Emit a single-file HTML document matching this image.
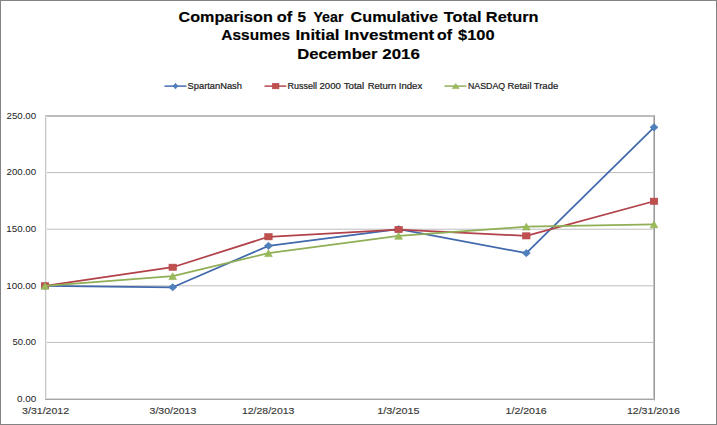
<!DOCTYPE html><html><head><meta charset="utf-8"><style>html,body{margin:0;padding:0;background:#fff;width:717px;height:425px;overflow:hidden;position:relative}</style></head><body><svg width="717" height="425" viewBox="0 0 717 425" style="position:absolute;left:0;top:0">
<rect x="0" y="0" width="717" height="425" fill="#fff"/>
<rect x="0.5" y="0.5" width="716" height="424" fill="none" stroke="#838383" stroke-width="1"/>
<line x1="45" y1="342.40" x2="654" y2="342.40" stroke="#bdbdbd" stroke-width="1"/>
<line x1="45" y1="285.80" x2="654" y2="285.80" stroke="#bdbdbd" stroke-width="1"/>
<line x1="45" y1="229.20" x2="654" y2="229.20" stroke="#bdbdbd" stroke-width="1"/>
<line x1="45" y1="172.60" x2="654" y2="172.60" stroke="#bdbdbd" stroke-width="1"/>
<rect x="45" y="115.25" width="610" height="1.5" fill="#a8a8a8"/>
<rect x="45" y="116" width="1" height="284" fill="#c9c9c9"/>
<rect x="46" y="116" width="1" height="282" fill="#ededed"/>
<rect x="653" y="116" width="1" height="283" fill="#c4c4c4"/>
<rect x="654" y="115.5" width="1" height="285" fill="#9a9a9a"/>
<rect x="45" y="398" width="609" height="1" fill="#d8d8d8"/>
<rect x="45" y="399" width="610" height="1" fill="#a6a6a6"/>
<text transform="translate(16.91,401.80) scale(1.1516,1)" font-family='"Liberation Sans", sans-serif' font-size="8.6" fill="#222">0.00</text>
<text transform="translate(12.42,345.20) scale(1.1038,1)" font-family='"Liberation Sans", sans-serif' font-size="8.6" fill="#222">50.00</text>
<text transform="translate(6.26,288.60) scale(1.1379,1)" font-family='"Liberation Sans", sans-serif' font-size="8.6" fill="#222">100.00</text>
<text transform="translate(6.26,232.00) scale(1.1379,1)" font-family='"Liberation Sans", sans-serif' font-size="8.6" fill="#222">150.00</text>
<text transform="translate(6.51,175.40) scale(1.1279,1)" font-family='"Liberation Sans", sans-serif' font-size="8.6" fill="#222">200.00</text>
<text transform="translate(6.51,118.80) scale(1.1279,1)" font-family='"Liberation Sans", sans-serif' font-size="8.6" fill="#222">250.00</text>
<text transform="translate(22.10,413.80) scale(1.1746,1)" font-family='"Liberation Sans", sans-serif' font-size="9.0" fill="#3a3a3a" stroke="#3a3a3a" stroke-width="0.15">3/31/2012</text>
<text transform="translate(149.60,413.80) scale(1.1653,1)" font-family='"Liberation Sans", sans-serif' font-size="9.0" fill="#3a3a3a" stroke="#3a3a3a" stroke-width="0.15">3/30/2013</text>
<text transform="translate(241.90,413.80) scale(1.1668,1)" font-family='"Liberation Sans", sans-serif' font-size="9.0" fill="#3a3a3a" stroke="#3a3a3a" stroke-width="0.15">12/28/2013</text>
<text transform="translate(377.27,413.80) scale(1.2071,1)" font-family='"Liberation Sans", sans-serif' font-size="9.0" fill="#3a3a3a" stroke="#3a3a3a" stroke-width="0.15">1/3/2015</text>
<text transform="translate(505.60,413.80) scale(1.1753,1)" font-family='"Liberation Sans", sans-serif' font-size="9.0" fill="#3a3a3a" stroke="#3a3a3a" stroke-width="0.15">1/2/2016</text>
<text transform="translate(626.89,413.80) scale(1.1782,1)" font-family='"Liberation Sans", sans-serif' font-size="9.0" fill="#3a3a3a" stroke="#3a3a3a" stroke-width="0.15">12/31/2016</text>
<polyline points="45.00,285.80 172.69,287.27 268.46,245.84 398.61,229.20 526.31,253.09 654.00,127.32" fill="none" stroke="#4169AC" stroke-width="1.75" stroke-linejoin="round" stroke-linecap="round"/>
<path d="M45.00,282.20 L49.00,285.80 L45.00,289.40 L41.00,285.80 Z" fill="#4F81BD" stroke="#4169AC" stroke-width="0.6"/>
<path d="M172.69,283.67 L176.69,287.27 L172.69,290.87 L168.69,287.27 Z" fill="#4F81BD" stroke="#4169AC" stroke-width="0.6"/>
<path d="M268.46,242.24 L272.46,245.84 L268.46,249.44 L264.46,245.84 Z" fill="#4F81BD" stroke="#4169AC" stroke-width="0.6"/>
<path d="M398.61,225.60 L402.61,229.20 L398.61,232.80 L394.61,229.20 Z" fill="#4F81BD" stroke="#4169AC" stroke-width="0.6"/>
<path d="M526.31,249.49 L530.31,253.09 L526.31,256.69 L522.31,253.09 Z" fill="#4F81BD" stroke="#4169AC" stroke-width="0.6"/>
<path d="M654.00,123.72 L658.00,127.32 L654.00,130.92 L650.00,127.32 Z" fill="#4F81BD" stroke="#4169AC" stroke-width="0.6"/>
<polyline points="45.00,285.80 172.69,267.24 268.46,236.78 398.61,229.54 526.31,235.88 654.00,201.24" fill="none" stroke="#B2424A" stroke-width="1.75" stroke-linejoin="round" stroke-linecap="round"/>
<rect x="41.30" y="282.70" width="7.40" height="6.20" fill="#C0504D" stroke="#B2424A" stroke-width="0.6"/>
<rect x="168.99" y="264.14" width="7.40" height="6.20" fill="#C0504D" stroke="#B2424A" stroke-width="0.6"/>
<rect x="264.76" y="233.68" width="7.40" height="6.20" fill="#C0504D" stroke="#B2424A" stroke-width="0.6"/>
<rect x="394.91" y="226.44" width="7.40" height="6.20" fill="#C0504D" stroke="#B2424A" stroke-width="0.6"/>
<rect x="522.61" y="232.78" width="7.40" height="6.20" fill="#C0504D" stroke="#B2424A" stroke-width="0.6"/>
<rect x="650.30" y="198.14" width="7.40" height="6.20" fill="#C0504D" stroke="#B2424A" stroke-width="0.6"/>
<polyline points="45.00,285.80 172.69,276.18 268.46,253.20 398.61,235.88 526.31,226.71 654.00,224.45" fill="none" stroke="#90AE56" stroke-width="1.75" stroke-linejoin="round" stroke-linecap="round"/>
<path d="M45.00,282.40 L48.80,289.20 L41.20,289.20 Z" fill="#9BBB59" stroke="#90AE56" stroke-width="0.6"/>
<path d="M172.69,272.78 L176.49,279.58 L168.89,279.58 Z" fill="#9BBB59" stroke="#90AE56" stroke-width="0.6"/>
<path d="M268.46,249.80 L272.26,256.60 L264.66,256.60 Z" fill="#9BBB59" stroke="#90AE56" stroke-width="0.6"/>
<path d="M398.61,232.48 L402.41,239.28 L394.81,239.28 Z" fill="#9BBB59" stroke="#90AE56" stroke-width="0.6"/>
<path d="M526.31,223.31 L530.11,230.11 L522.51,230.11 Z" fill="#9BBB59" stroke="#90AE56" stroke-width="0.6"/>
<path d="M654.00,221.05 L657.80,227.85 L650.20,227.85 Z" fill="#9BBB59" stroke="#90AE56" stroke-width="0.6"/>
<text transform="translate(178.59,21.80) scale(1.1299,1)" font-family='"Liberation Sans", sans-serif' font-size="14.3" font-weight="bold" fill="#000" stroke="#000" stroke-width="0.15">Comparison</text>
<text transform="translate(276.81,21.80) scale(1.1488,1)" font-family='"Liberation Sans", sans-serif' font-size="14.3" font-weight="bold" fill="#000" stroke="#000" stroke-width="0.15">of</text>
<text transform="translate(297.48,21.80) scale(1.0694,1)" font-family='"Liberation Sans", sans-serif' font-size="14.3" font-weight="bold" fill="#000" stroke="#000" stroke-width="0.15">5</text>
<text transform="translate(313.41,21.80) scale(0.9947,1)" font-family='"Liberation Sans", sans-serif' font-size="14.3" font-weight="bold" fill="#000" stroke="#000" stroke-width="0.15">Year</text>
<text transform="translate(350.58,21.80) scale(1.1355,1)" font-family='"Liberation Sans", sans-serif' font-size="14.3" font-weight="bold" fill="#000" stroke="#000" stroke-width="0.15">Cumulative</text>
<text transform="translate(443.87,21.80) scale(1.1399,1)" font-family='"Liberation Sans", sans-serif' font-size="14.3" font-weight="bold" fill="#000" stroke="#000" stroke-width="0.15">Total</text>
<text transform="translate(485.85,21.80) scale(1.1440,1)" font-family='"Liberation Sans", sans-serif' font-size="14.3" font-weight="bold" fill="#000" stroke="#000" stroke-width="0.15">Return</text>
<text transform="translate(221.36,40.40) scale(1.0822,1)" font-family='"Liberation Sans", sans-serif' font-size="14.3" font-weight="bold" fill="#000" stroke="#000" stroke-width="0.15">Assumes</text>
<text transform="translate(295.42,40.40) scale(1.1815,1)" font-family='"Liberation Sans", sans-serif' font-size="14.3" font-weight="bold" fill="#000" stroke="#000" stroke-width="0.15">Initial</text>
<text transform="translate(344.31,40.40) scale(1.1928,1)" font-family='"Liberation Sans", sans-serif' font-size="14.3" font-weight="bold" fill="#000" stroke="#000" stroke-width="0.15">Investment</text>
<text transform="translate(437.03,40.40) scale(1.1102,1)" font-family='"Liberation Sans", sans-serif' font-size="14.3" font-weight="bold" fill="#000" stroke="#000" stroke-width="0.15">of</text>
<text transform="translate(458.04,40.40) scale(1.1472,1)" font-family='"Liberation Sans", sans-serif' font-size="14.3" font-weight="bold" fill="#000" stroke="#000" stroke-width="0.15">$100</text>
<text transform="translate(297.14,59.00) scale(1.1621,1)" font-family='"Liberation Sans", sans-serif' font-size="14.3" font-weight="bold" fill="#000" stroke="#000" stroke-width="0.15">December</text>
<text transform="translate(382.26,59.00) scale(1.1823,1)" font-family='"Liberation Sans", sans-serif' font-size="14.3" font-weight="bold" fill="#000" stroke="#000" stroke-width="0.15">2016</text>
<line x1="164.5" y1="86.1" x2="186.5" y2="86.1" stroke="#4169AC" stroke-width="1.45"/>
<path d="M175.50,83.30 L177.80,86.10 L175.50,88.90 L173.20,86.10 Z" fill="#4F81BD" stroke="#4169AC" stroke-width="0.6"/>
<text transform="translate(187.62,89.00) scale(1.0824,1)" font-family='"Liberation Sans", sans-serif' font-size="8.6" fill="#222" stroke="#222" stroke-width="0.2">SpartanNash</text>
<line x1="264.5" y1="86.1" x2="286.3" y2="86.1" stroke="#B2424A" stroke-width="1.45"/>
<rect x="272.50" y="83.40" width="6.40" height="5.40" fill="#C0504D" stroke="#B2424A" stroke-width="0.6"/>
<text transform="translate(287.41,89.00) scale(1.0513,1)" font-family='"Liberation Sans", sans-serif' font-size="8.6" fill="#222" stroke="#222" stroke-width="0.2">Russell</text>
<text transform="translate(319.47,89.00) scale(1.1165,1)" font-family='"Liberation Sans", sans-serif' font-size="8.6" fill="#222" stroke="#222" stroke-width="0.2">2000</text>
<text transform="translate(343.64,89.00) scale(1.1323,1)" font-family='"Liberation Sans", sans-serif' font-size="8.6" fill="#222" stroke="#222" stroke-width="0.2">Total</text>
<text transform="translate(367.67,89.00) scale(1.1123,1)" font-family='"Liberation Sans", sans-serif' font-size="8.6" fill="#222" stroke="#222" stroke-width="0.2">Return</text>
<text transform="translate(398.77,89.00) scale(1.1166,1)" font-family='"Liberation Sans", sans-serif' font-size="8.6" fill="#222" stroke="#222" stroke-width="0.2">Index</text>
<line x1="444.5" y1="86.1" x2="466.5" y2="86.1" stroke="#90AE56" stroke-width="1.45"/>
<path d="M455.70,83.60 L459.10,88.60 L452.30,88.60 Z" fill="#9BBB59" stroke="#90AE56" stroke-width="0.6"/>
<text transform="translate(467.93,89.00) scale(1.0256,1)" font-family='"Liberation Sans", sans-serif' font-size="8.6" fill="#222" stroke="#222" stroke-width="0.2">NASDAQ</text>
<text transform="translate(507.48,89.00) scale(1.0918,1)" font-family='"Liberation Sans", sans-serif' font-size="8.6" fill="#222" stroke="#222" stroke-width="0.2">Retail</text>
<text transform="translate(533.74,89.00) scale(1.1076,1)" font-family='"Liberation Sans", sans-serif' font-size="8.6" fill="#222" stroke="#222" stroke-width="0.2">Trade</text>
</svg></body></html>
